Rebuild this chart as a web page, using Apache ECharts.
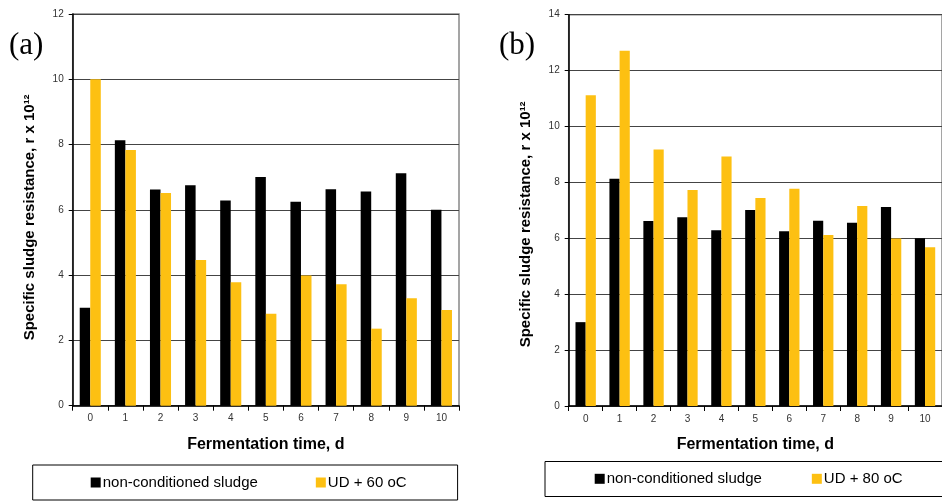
<!DOCTYPE html>
<html>
<head>
<meta charset="utf-8">
<script src="https://cdn.jsdelivr.net/npm/echarts@6/dist/echarts.min.js"></script>
<style>
  html, body { margin: 0; padding: 0; background: #fff; overflow: hidden; }
  #chart { width: 942px; height: 503px; }
</style>
</head>
<body>
<div id="chart"></div>
<script>
const days = ['0', '1', '2', '3', '4', '5', '6', '7', '8', '9', '10'];
const nonConditioned = [3.0, 8.13, 6.62, 6.75, 6.29, 7.01, 6.25, 6.63, 6.56, 7.12, 6.0];
const ud60 = [10.0, 7.83, 6.52, 4.46, 3.78, 2.82, 3.99, 3.72, 2.36, 3.29, 2.93];
const ud80 = [11.12, 12.71, 9.18, 7.73, 8.93, 7.44, 7.77, 6.12, 7.16, 5.99, 5.68];
const yTicksA = { min: 0, max: 12, interval: 2 };
const yTicksB = { min: 0, max: 14, interval: 2 };

const FONT = 'Liberation Sans, Arial, sans-serif';
const BLACK = '#000000';
const YELLOW = '#FDC012';

const chart = echarts.init(document.getElementById('chart'), null, { renderer: 'canvas' });

const xAxisFor = (gridIndex) => ({
    type: 'category',
    gridIndex: gridIndex,
    data: days,
    name: 'Fermentation time, d',
    nameLocation: 'middle',
    nameGap: 31,
    nameTextStyle: { fontFamily: FONT, fontSize: 16, fontWeight: 'bold', color: '#000' },
    axisLine: { lineStyle: { color: '#000', width: 1.5 } },
    axisTick: { show: true, length: 5, lineStyle: { color: '#000' } },
    axisLabel: { fontFamily: FONT, fontSize: 10, color: '#333', margin: 8 },
    splitLine: { show: false }
});

const yAxisFor = (gridIndex, ticks, shift) => ({
    type: 'value',
    gridIndex: gridIndex,
    min: ticks.min,
    max: ticks.max,
    interval: ticks.interval,
    name: 'Specific sludge resistance, r x 10\u00B9\u00B2',
    nameLocation: 'middle',
    nameGap: 35,
    nameTextStyle: {
        fontFamily: FONT, fontSize: 15, fontWeight: 'bold', color: '#000',
        padding: [0, shift, 0, 0]
    },
    axisLine: { show: true, lineStyle: { color: '#000', width: 1.5 } },
    axisTick: { show: true, length: 4, lineStyle: { color: '#000' } },
    axisLabel: { fontFamily: FONT, fontSize: 10, color: '#333', margin: 9 },
    splitLine: { show: true, lineStyle: { color: '#444', width: 1 } }
});

const legendFor = (left, top, names, gap, padding, border) => ({
    left: left,
    top: top,
    width: 600,
    orient: 'horizontal',
    data: names,
    itemWidth: 10,
    itemHeight: 10,
    itemGap: gap,
    icon: 'rect',
    padding: padding,
    borderColor: '#000',
    borderWidth: border,
    selectedMode: false,
    textStyle: { fontFamily: FONT, fontSize: 15, color: '#000', lineHeight: 15, padding: [0, 0, 0, -3] }
});

const barSeries = (name, data, color, axisIndex) => ({
    name: name,
    type: 'bar',
    xAxisIndex: axisIndex,
    yAxisIndex: axisIndex,
    data: data,
    barGap: '0%',
    barCategoryGap: '40%',
    itemStyle: { color: color },
    emphasis: { disabled: true },
    animation: false
});

const option = {
    backgroundColor: '#fff',
    animation: false,
    grid: [
        { left: 72.7, top: 14, width: 386.3, height: 391.7, show: true, borderColor: '#888', borderWidth: 1.5, backgroundColor: 'transparent' },
        { left: 568.7, top: 14.7, width: 385, height: 391.3, show: true, borderColor: '#888', borderWidth: 1.5, backgroundColor: 'transparent' }
    ],
    xAxis: [xAxisFor(0), xAxisFor(1)],
    yAxis: [yAxisFor(0, yTicksA, 15), yAxisFor(1, yTicksB, 28)],
    legend: [
        legendFor(32.7, 465, ['non-conditioned sludge', 'UD + 60 oC'], 58, [10, 51, 10, 58], 1),
        // legend (b) box runs past the right edge, its frame is drawn below
        legendFor(544.7, 461.3, ['non-conditioned sludge', 'UD + 80 oC'], 50, [10, 20, 10, 50], 0)
    ],
    series: [
        barSeries('non-conditioned sludge', nonConditioned, BLACK, 0),
        barSeries('UD + 60 oC', ud60, YELLOW, 0),
        barSeries('non-conditioned sludge', nonConditioned, BLACK, 1),
        barSeries('UD + 80 oC', ud80, YELLOW, 1)
    ],
    graphic: [
        { type: 'text', left: 9, top: 30, style: { text: '(a)', font: '31px "Liberation Serif", "Times New Roman", serif', fill: '#000' } },
        { type: 'text', left: 499, top: 30, style: { text: '(b)', font: '31px "Liberation Serif", "Times New Roman", serif', fill: '#000' } },
        { type: 'rect', shape: { x: 545, y: 461.5, width: 420, height: 35 }, style: { fill: 'none', stroke: '#000', lineWidth: 1 }, silent: true }
    ]
};

chart.setOption(option);
</script>
</body>
</html>
